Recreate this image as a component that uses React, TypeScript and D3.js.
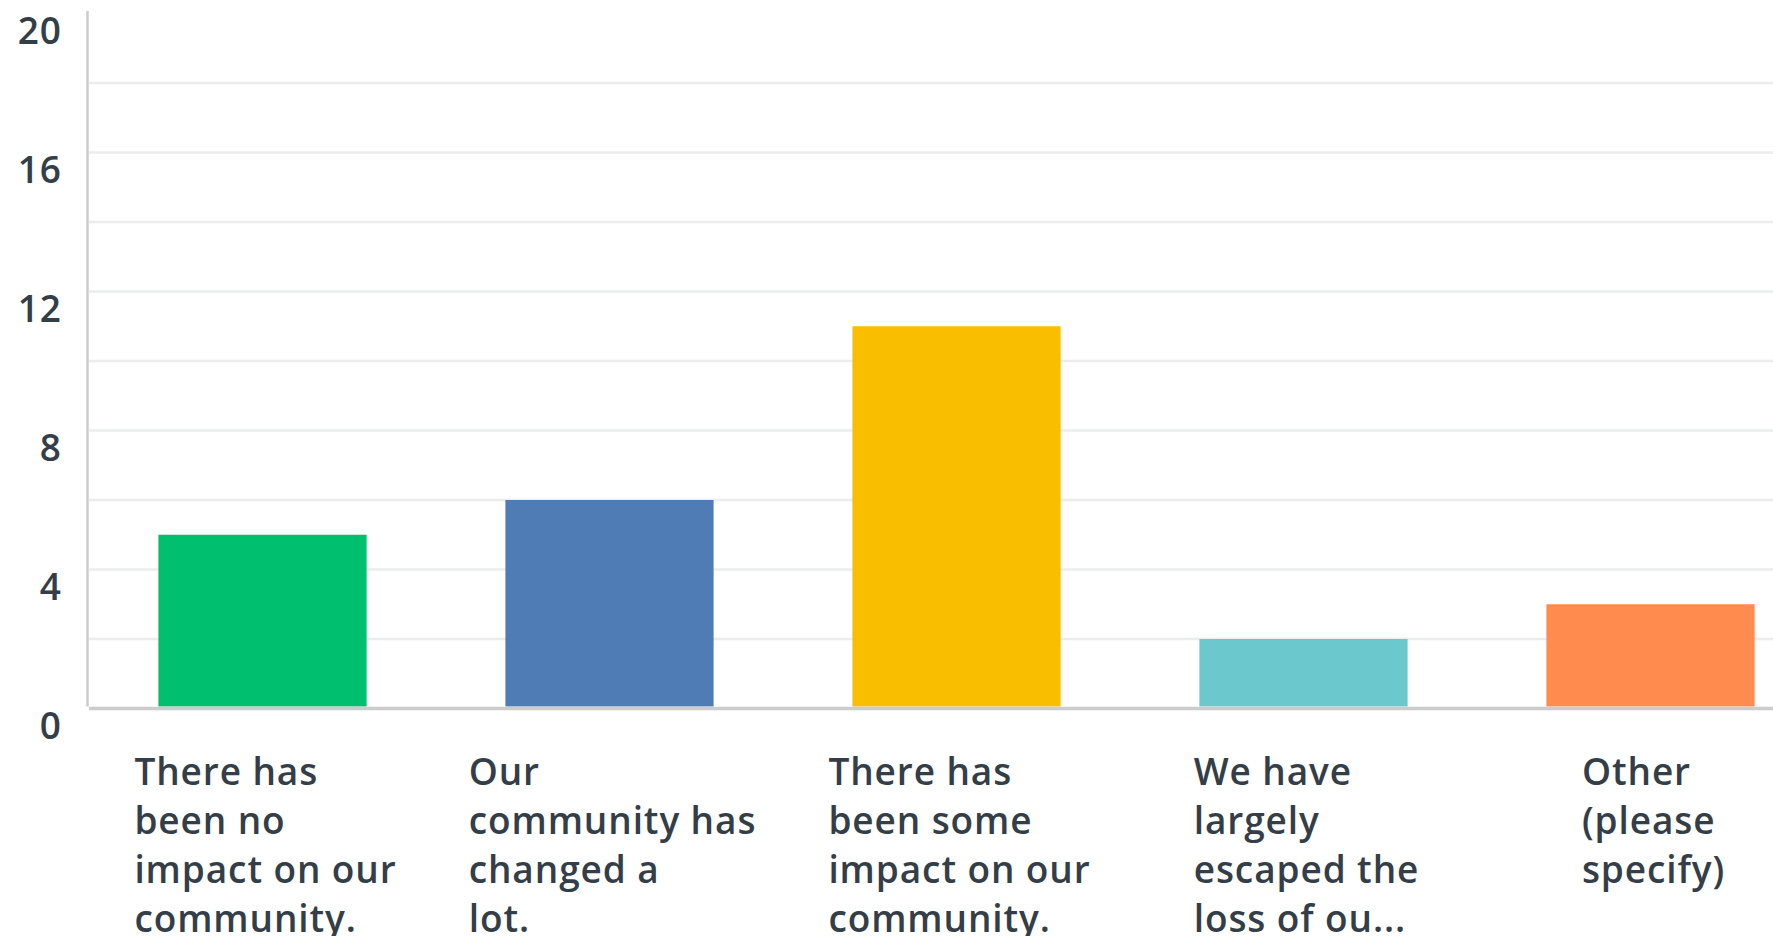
import { useEffect, useRef } from 'react';
import * as d3 from 'd3';

// Survey answers, wrapped as on the original chart
const categoryLines: string[][] = [
  ['There has', 'been no', 'impact on our', 'community.'],
  ['Our', 'community has', 'changed a', 'lot.'],
  ['There has', 'been some', 'impact on our', 'community.'],
  ['We have', 'largely', 'escaped the', 'loss of ou...'],
  ['Other', '(please', 'specify)'],
];
const responses = [5, 6, 11, 2, 3];
const barColors = ['#00bf6f', '#507cb6', '#f9be00', '#6bc8cd', '#ff8b4f'];
const yTicks = [0, 4, 8, 12, 16, 20];
const gridValues = [2, 4, 6, 8, 10, 12, 14, 16, 18];

const FONT = '"Open Sans", "Noto Sans", sans-serif';
const TEXT_COLOR = '#333e48';

export default function App() {
  const svgRef = useRef<SVGSVGElement | null>(null);

  useEffect(() => {
    document.body.style.margin = '0';
    if (!svgRef.current) return;

    const svg = d3.select(svgRef.current);
    svg.selectAll('*').remove();

    const width = 1773;
    const height = 936;
    svg.attr('width', width).attr('height', height);

    // plot runs off the right edge, like the cropped original
    const x = d3.scaleBand<number>()
      .domain(d3.range(responses.length))
      .range([89, 1824])
      .paddingInner(0.4)
      .paddingOuter(0.2);

    const y = d3.scaleLinear().domain([0, 20]).range([708.5, 13.5]);

    // Gridlines
    svg.append('g')
      .selectAll('line')
      .data(gridValues)
      .enter()
      .append('line')
      .attr('x1', 89)
      .attr('x2', width)
      .attr('y1', d => y(d))
      .attr('y2', d => y(d))
      .attr('stroke', '#ebecec')
      .attr('stroke-width', 2.5);

    // Bars
    svg.append('g')
      .selectAll('rect')
      .data(responses)
      .enter()
      .append('rect')
      .attr('x', (_, i) => x(i) as number)
      .attr('width', x.bandwidth())
      .attr('y', d => y(d))
      .attr('height', d => y(0) - y(d) - 2)
      .attr('fill', (_, i) => barColors[i]);

    // Axis lines
    svg.append('line')
      .attr('x1', 87.5).attr('x2', 87.5)
      .attr('y1', 11).attr('y2', y(0) - 2)
      .attr('stroke', '#cccccc')
      .attr('stroke-width', 2.5);

    svg.append('line')
      .attr('x1', 89).attr('x2', width)
      .attr('y1', y(0)).attr('y2', y(0))
      .attr('stroke', '#cccccc')
      .attr('stroke-width', 3.5);

    // Y tick labels
    svg.append('g')
      .selectAll('text')
      .data(yTicks)
      .enter()
      .append('text')
      .attr('x', 62)
      .attr('y', d => y(d) + 30)
      .attr('text-anchor', 'end')
      .attr('font-family', FONT)
      .attr('font-size', 37)
      .attr('font-weight', 600)
      .attr('letter-spacing', 1)
      .attr('fill', TEXT_COLOR)
      .text(d => d);

    // Category labels: block centred on the band, lines left-aligned
    categoryLines.forEach((lines, i) => {
      const g = svg.append('g');
      const t = g.append('text')
        .attr('font-family', FONT)
        .attr('font-size', 37)
        .attr('font-weight', 600)
        .attr('letter-spacing', 0.9)
        .attr('fill', TEXT_COLOR);
      lines.forEach((line, j) => {
        t.append('tspan')
          .attr('x', 0)
          .attr('y', 785 + j * 49)
          .text(line);
      });
      const w = (t.node() as SVGTextElement).getBBox().width;
      const cx = (x(i) as number) + x.bandwidth() / 2;
      g.attr('transform', `translate(${cx - w / 2 + 3},0)`);
    });
  }, []);

  return <svg ref={svgRef} style={{ display: 'block' }} />;
}
